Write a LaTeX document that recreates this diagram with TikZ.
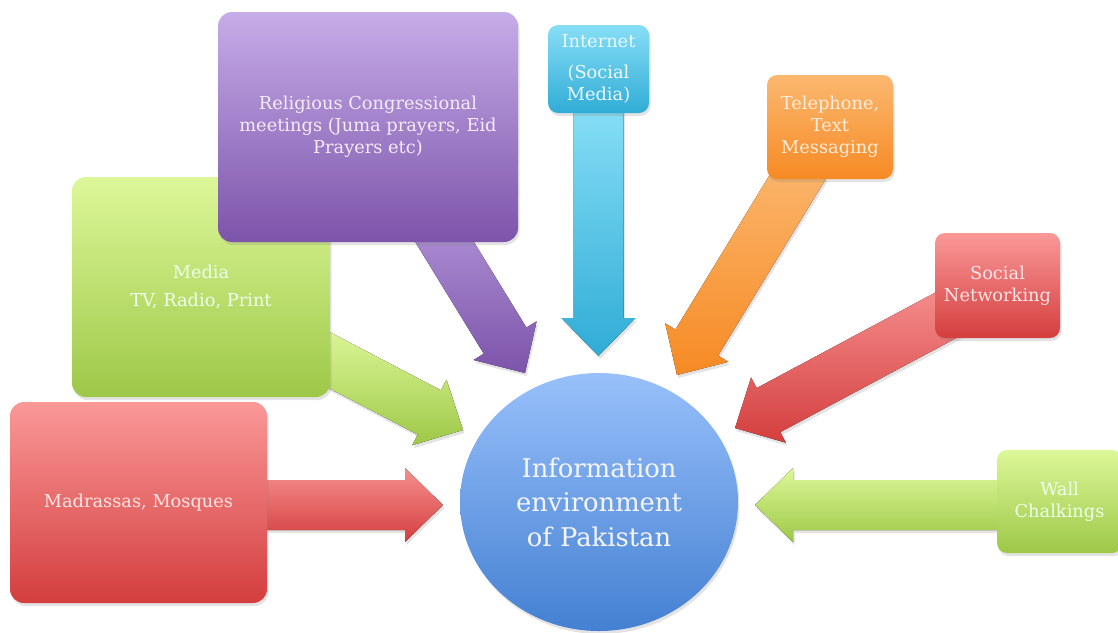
\documentclass[tikz,border=0pt]{standalone}
\usepackage{fontspec}
\setmainfont{DejaVu Serif}
\usetikzlibrary{calc,shadows,shapes.geometric}
\definecolor{redA}{RGB}{250,152,152}
\definecolor{redB}{RGB}{212,62,62}
\definecolor{grnA}{RGB}{220,247,152}
\definecolor{grnB}{RGB}{158,200,72}
\definecolor{purA}{RGB}{198,172,232}
\definecolor{purB}{RGB}{124,84,170}
\definecolor{cyaA}{RGB}{135,222,246}
\definecolor{cyaB}{RGB}{48,172,214}
\definecolor{orgA}{RGB}{251,184,112}
\definecolor{orgB}{RGB}{246,138,36}
\definecolor{bluA}{RGB}{152,192,250}
\definecolor{bluB}{RGB}{68,128,210}
\newcommand\blockarrow[3]{%
  \path ($(#3)!38pt!(#2)$) coordinate (hb);
  \fill[#1] ($(#2)!25pt!90:(#3)$) -- ($(hb)!25pt!-90:(#2)$) -- ($(hb)!37pt!-90:(#2)$)
    -- (#3) -- ($(hb)!37pt!90:(#2)$) -- ($(hb)!25pt!90:(#2)$) -- ($(#2)!25pt!-90:(#3)$) -- cycle;
}
\begin{document}
\begin{tikzpicture}[x=1pt,y=-1pt,
  shad/.style={drop shadow={opacity=0.22,shadow xshift=1.5pt,shadow yshift=-3pt}},
  box/.style={shad,rounded corners=14pt,align=center,inner sep=3pt,
    font=\fontsize{17.8}{22}\selectfont},
  sbox/.style={box,rounded corners=10pt},
  redbox/.style={top color=redA,bottom color=redB,text=red!10!white},
  grnbox/.style={top color=grnA,bottom color=grnB,text=green!8!white},
  purbox/.style={top color=purA,bottom color=purB,text=violet!8!white},
  cyabox/.style={top color=cyaA,bottom color=cyaB,text=cyan!8!white},
  orgbox/.style={top color=orgA,bottom color=orgB,text=orange!14!white},
  redarr/.style={shad,top color=redA!90!redB,bottom color=redB},
  grnarr/.style={shad,top color=grnA,bottom color=grnB},
  purarr/.style={shad,top color=purA!70!purB,bottom color=purB},
  cyaarr/.style={shad,top color=cyaA,bottom color=cyaB},
  orgarr/.style={shad,top color=orgA,bottom color=orgB},
]
\useasboundingbox (0,0) rectangle (1118,632);

% connector coordinates
\coordinate (s1) at (262,505); \coordinate (t1) at (443,505);
\coordinate (s2) at (310,350); \coordinate (t2) at (463,430);
\coordinate (s3) at (436,228); \coordinate (t3) at (525,373);
\coordinate (s4) at (598.5,105); \coordinate (t4) at (598.5,356);
\coordinate (s5) at (805,165); \coordinate (t5) at (677,375);
\coordinate (s6) at (965,305); \coordinate (t6) at (735,428);
\coordinate (s7) at (1005,505); \coordinate (t7) at (755,505);

% arrows
\blockarrow{redarr}{s1}{t1}
\blockarrow{grnarr}{s2}{t2}
\blockarrow{purarr}{s3}{t3}
\blockarrow{cyaarr}{s4}{t4}
\blockarrow{orgarr}{s5}{t5}
\blockarrow{redarr}{s6}{t6}
\blockarrow{grnarr}{s7}{t7}

% boxes
\node[box,grnbox,minimum width=258pt,minimum height=220pt] (med) at (201,287)
  {Media\\[6pt]TV, Radio, Print};
\node[box,redbox,minimum width=257pt,minimum height=201pt] (mad) at (138.5,502.5)
  {Madrassas, Mosques};
\node[box,purbox,minimum width=300pt,minimum height=230pt] (rel) at (368,127)
  {Religious Congressional\\meetings (Juma prayers, Eid\\Prayers etc)};
\node[sbox,cyabox,minimum width=101pt,minimum height=88pt] (inet) at (598.5,69)
  {Internet\\[9pt](Social\\Media)};
\node[sbox,orgbox,minimum width=126pt,minimum height=104pt] (tel) at (830,127)
  {Telephone,\\Text\\Messaging};
\node[sbox,redbox,minimum width=125pt,minimum height=105pt] (soc) at (997.5,285.5)
  {Social\\Networking};
\node[sbox,grnbox,minimum width=125pt,minimum height=103pt] (wall) at (1059.5,501.5)
  {Wall\\Chalkings};

% centre
\node[ellipse,shad,top color=bluA,bottom color=bluB,text=blue!4!white,
  minimum width=278pt,minimum height=258pt,align=center,
  font=\fontsize{25.8}{34.5}\selectfont] (info) at (599,502)
  {Information\\environment\\of Pakistan};
\end{tikzpicture}
\end{document}
